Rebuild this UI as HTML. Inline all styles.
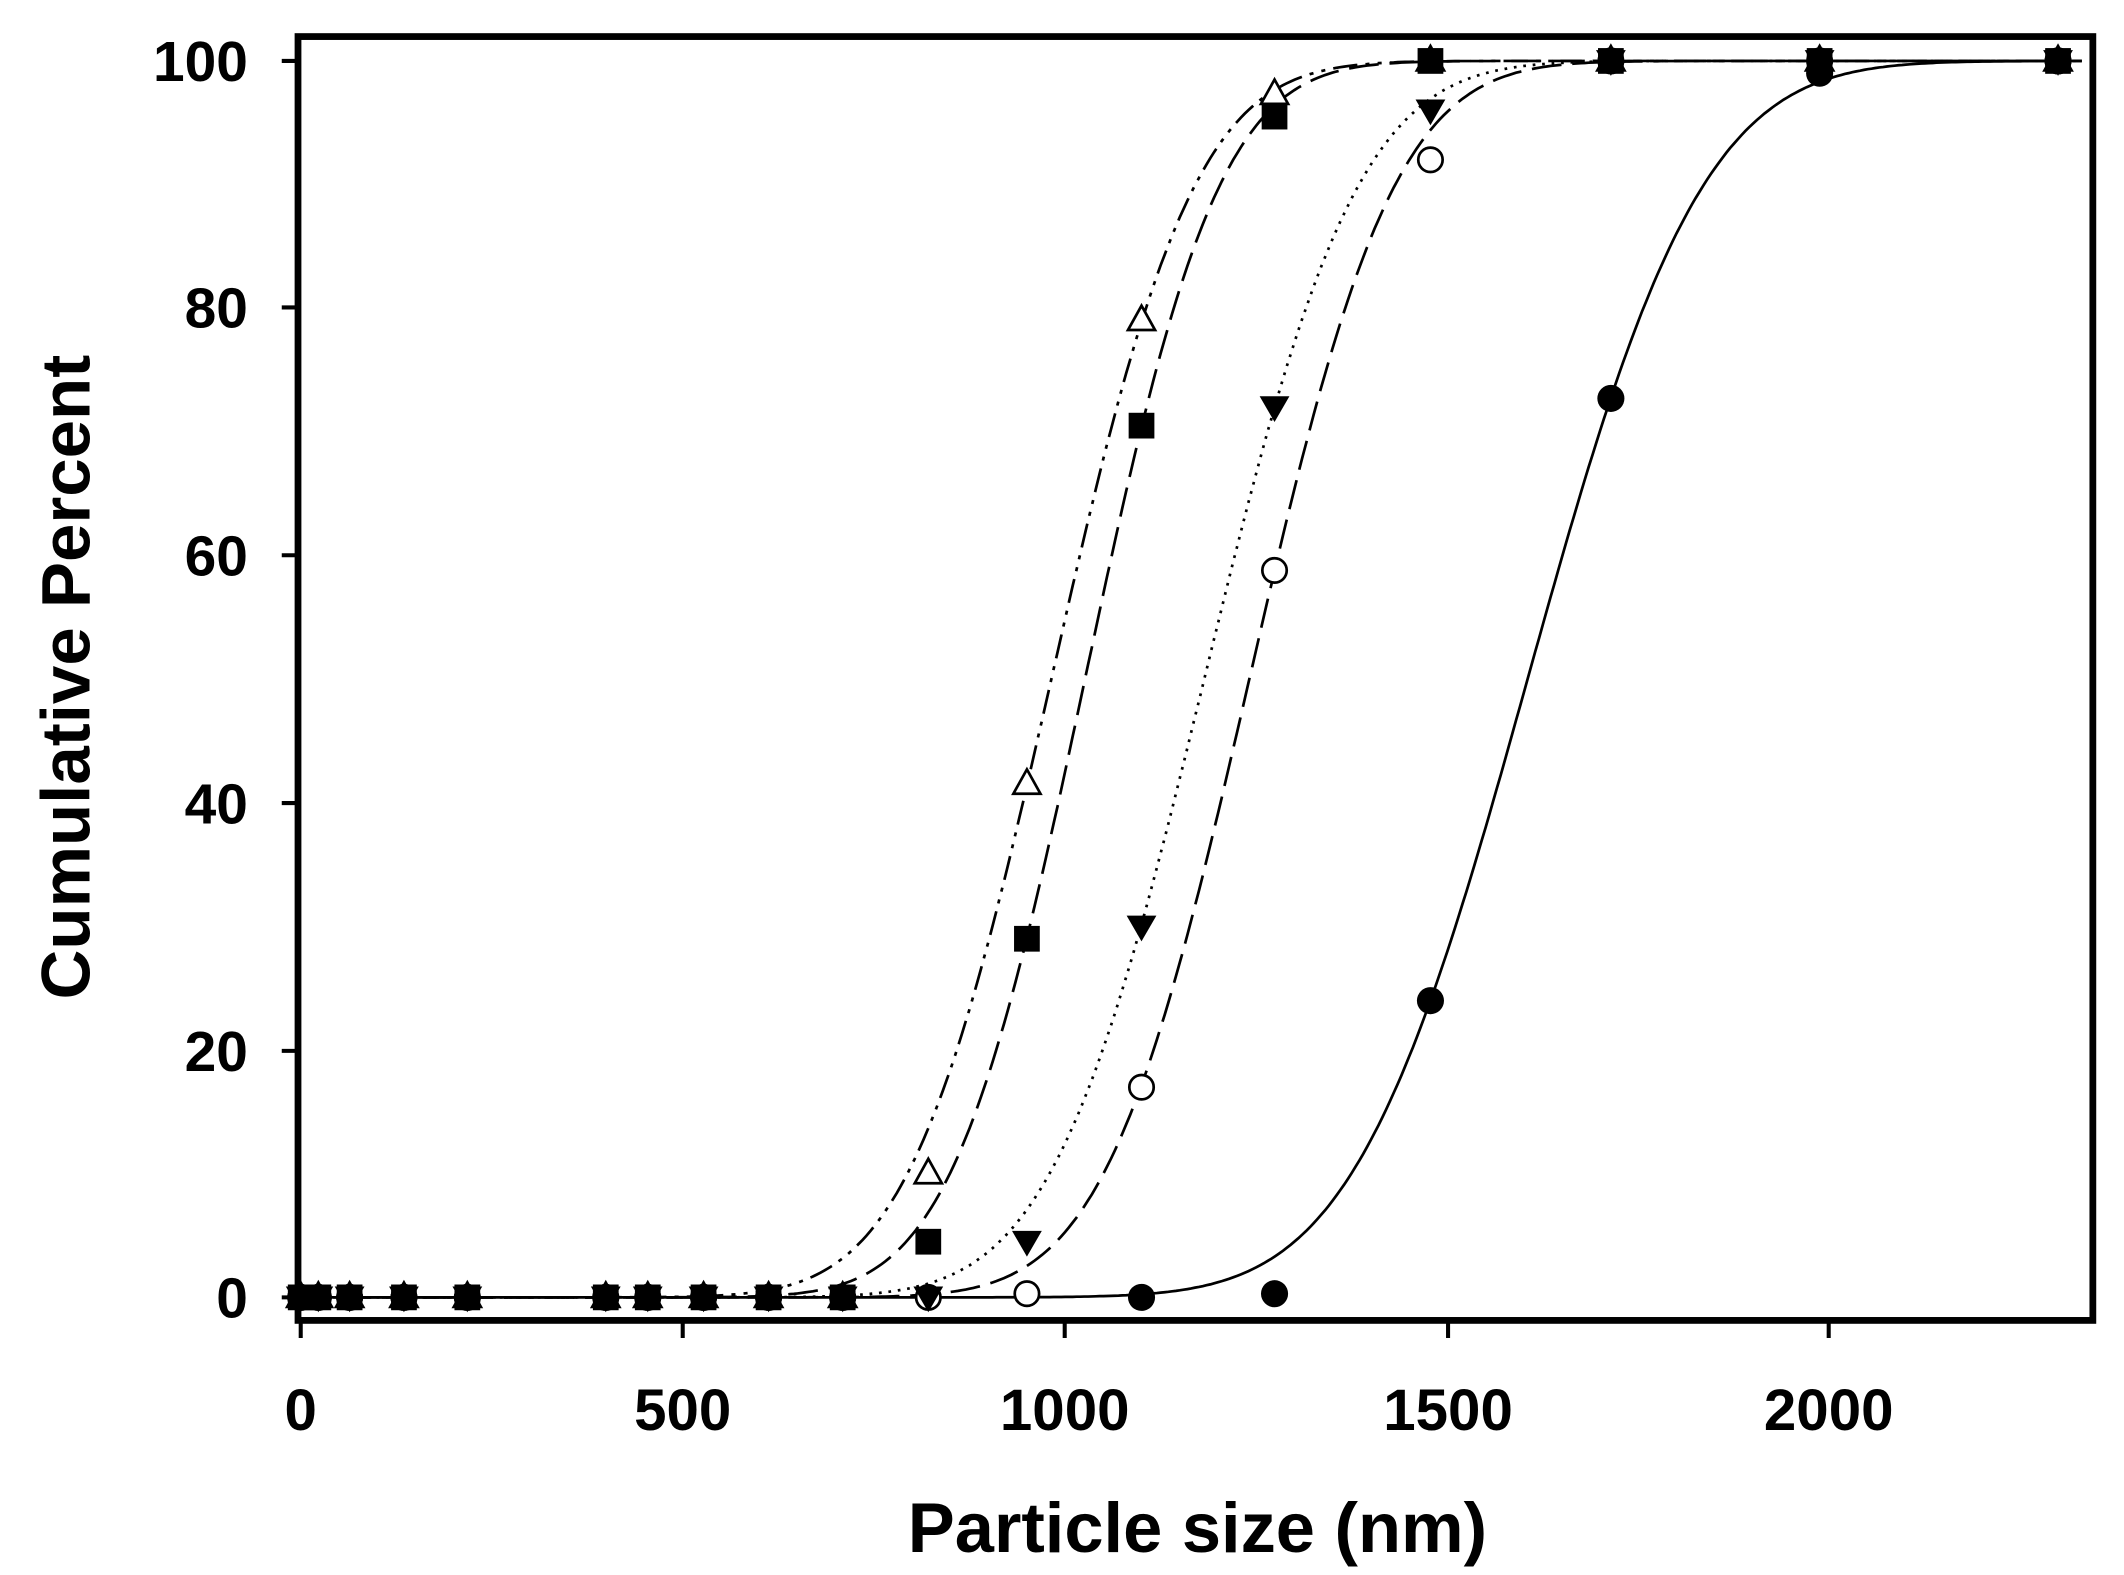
<!DOCTYPE html>
<html><head><meta charset="utf-8"><style>
html,body{margin:0;padding:0;background:#fff;}
svg{display:block;}
text{font-family:"Liberation Sans",Arial,sans-serif;font-weight:bold;fill:#000;}
</style></head><body>
<svg id="s" width="2124" height="1575" viewBox="0 0 1568 1163" preserveAspectRatio="none" xmlns="http://www.w3.org/2000/svg">
<rect x="0" y="0" width="1568" height="1163" fill="#fff"/>
<g id="plot"></g>
<rect x="220" y="27" width="1325" height="948" fill="none" stroke="#000" stroke-width="5"/>
<g stroke="#000" stroke-width="3">
<line x1="208" y1="45" x2="220" y2="45"/><line x1="208" y1="227" x2="220" y2="227"/>
<line x1="208" y1="410" x2="220" y2="410"/><line x1="208" y1="593" x2="220" y2="593"/>
<line x1="208" y1="776" x2="220" y2="776"/><line x1="208" y1="958" x2="220" y2="958"/>
<line x1="222" y1="975" x2="222" y2="988"/><line x1="504" y1="975" x2="504" y2="988"/>
<line x1="786" y1="975" x2="786" y2="988"/><line x1="1069" y1="975" x2="1069" y2="988"/>
<line x1="1350" y1="975" x2="1350" y2="988"/>
</g>
<g font-size="42" text-anchor="end">
<text x="183" y="60">100</text><text x="183" y="242">80</text><text x="183" y="425">60</text>
<text x="183" y="608">40</text><text x="183" y="791">20</text><text x="183" y="973">0</text>
</g>
<g font-size="43" text-anchor="middle">
<text x="222" y="1056">0</text><text x="504" y="1056">500</text><text x="786" y="1056">1000</text>
<text x="1069" y="1056">1500</text><text x="1350" y="1056">2000</text>
</g>
<text x="884" y="1146" font-size="52" text-anchor="middle">Particle size (nm)</text>
<text transform="translate(66,500) rotate(-90)" font-size="51" text-anchor="middle">Cumulative Percent</text>
</svg>
<script>
function erf(x){var s=x<0?-1:1;x=Math.abs(x);var t=1/(1+0.3275911*x);var y=1-(((((1.061405429*t-1.453152027)*t)+1.421413741)*t-0.284496736)*t+0.254829592)*t*Math.exp(-x*x);return s*y;}
function cdf(v,m,s){return 50*(1+erf((v-m)/(s*Math.SQRT2)));}
function X(v){return 222+v*0.5643;}
function Y(p){return 958-p*9.13;}
var g=document.getElementById('plot'),h="";
var xs=[0,23,64,135,218,399,454,527,612,709,821,950,1100,1274,1478,1714,1987,2299];
var series=[
 {m:982,s:147,dash:"18,6,3,6,3,6",mk:"tu",pts:{821:10,950:41.5,1100:79,1274:97.3,1478:100,1714:100,1987:100,2299:100}},
 {m:1241,s:149,dash:"22,8",mk:"oc",pts:{821:0,950:0.3,1100:17,1274:58.8,1478:92,1714:100,1987:100,2299:100}},
 {m:1182,s:158,dash:"2,5",mk:"td",pts:{821:0,950:4.5,1100:30,1274:72,1478:96,1714:100,1987:100,2299:100}},
 {m:1026,s:138,dash:"22,8",mk:"sq",pts:{821:4.5,950:29,1100:70.5,1274:95.5,1478:100,1714:100,1987:100,2299:100}},
 {m:1605,s:180,dash:"",mk:"fc",skip:{821:1,950:1},pts:{1274:0.3,1478:24,1714:72.7,1987:99,2299:100}}
];
series.forEach(function(S){
 var d="";for(var v=0;v<=2330;v+=5){var p=cdf(v,S.m,S.s);d+=(v?"L":"M")+X(v).toFixed(1)+","+Y(p).toFixed(1);}
 h+='<path d="'+d+'" fill="none" stroke="#000" stroke-width="2"'+(S.dash?' stroke-dasharray="'+S.dash+'"':'')+'/>';
});
function mk(t,x,y){
 if(t=="fc")return '<circle cx="'+x+'" cy="'+y+'" r="10" fill="#000"/>';
 if(t=="oc")return '<circle cx="'+x+'" cy="'+y+'" r="9" fill="#fff" stroke="#000" stroke-width="2"/>';
 if(t=="sq")return '<rect x="'+(x-9.5)+'" y="'+(y-9.5)+'" width="19" height="19" fill="#000"/>';
 if(t=="tu")return '<polygon points="'+x+','+(y-11)+' '+(x-10)+','+(y+7)+' '+(x+10)+','+(y+7)+'" fill="#fff" stroke="#000" stroke-width="2"/>';
 if(t=="td")return '<polygon points="'+x+','+(y+11)+' '+(x-11)+','+(y-8)+' '+(x+11)+','+(y-8)+'" fill="#000"/>';
}
series.forEach(function(S){
 xs.forEach(function(v){if(S.skip&&S.skip[v])return;var p=(v in S.pts)?S.pts[v]:0;h+=mk(S.mk,Math.round(X(v)*10)/10,Math.round(Y(p)*10)/10);});
});
g.innerHTML=h;
</script>
</body></html>
